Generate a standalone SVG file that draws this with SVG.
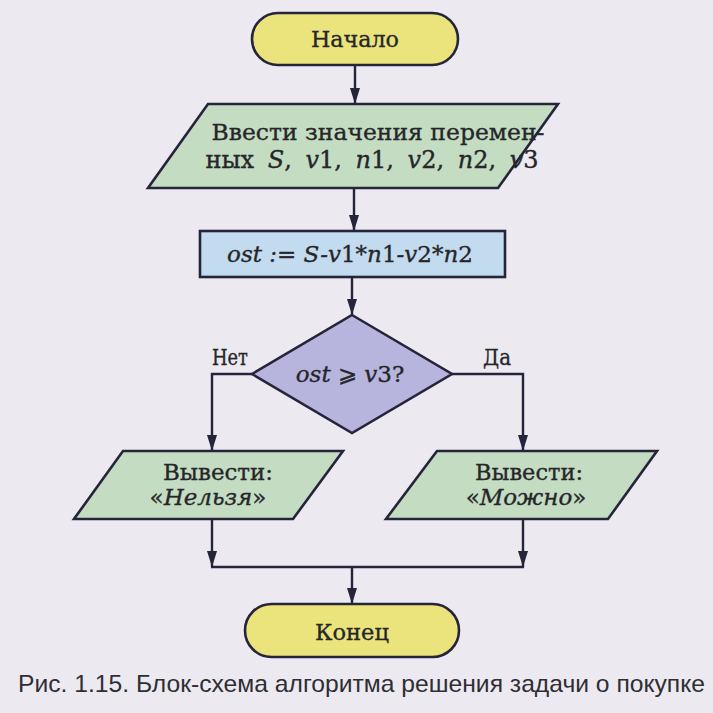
<svg xmlns="http://www.w3.org/2000/svg" width="713" height="713" viewBox="0 0 713 713">
<defs>
<marker id="arr" markerUnits="userSpaceOnUse" markerWidth="17" markerHeight="10" refX="16" refY="5" orient="auto">
<path d="M0,0 L16,5 L0,10 z" fill="#26243a"/>
</marker>
<style>
.shape{stroke:#26243a;stroke-width:2.6;stroke-linejoin:miter}
.term{fill:#ebe47c}
.io{fill:#c3dcc2}
.proc{fill:#c3dbef}
.dec{fill:#b7b5de}
.t{font-family:"DejaVu Serif","Liberation Serif",serif;font-size:23px;fill:#26262a;stroke:#26262a;stroke-width:0.35;text-anchor:middle}
.i{font-style:italic}
.u{font-style:normal}
.conn{fill:none;stroke:#26243a;stroke-width:2.4}
.cap{font-family:"Liberation Sans",Arial,sans-serif;font-size:24px;fill:#2e2e33}
</style>
</defs>
<rect x="0" y="0" width="713" height="713" fill="#eceaf0"/>

<g id="connectors">
<line class="conn" x1="355" y1="65" x2="355" y2="104" marker-end="url(#arr)"/>
<line class="conn" x1="354" y1="188" x2="354" y2="231" marker-end="url(#arr)"/>
<line class="conn" x1="352" y1="277" x2="352" y2="315" marker-end="url(#arr)"/>
<polyline class="conn" points="252,374 212,374 212,451" marker-end="url(#arr)"/>
<polyline class="conn" points="452,374 523,374 523,451" marker-end="url(#arr)"/>
<line class="conn" x1="212" y1="519" x2="212" y2="567" marker-end="url(#arr)"/>
<line class="conn" x1="523" y1="519" x2="523" y2="567" marker-end="url(#arr)"/>
<line class="conn" x1="211" y1="567" x2="524" y2="567"/>
<line class="conn" x1="352" y1="567" x2="352" y2="604" marker-end="url(#arr)"/>
</g>

<g id="start">
<rect class="shape term" x="252" y="13" width="206" height="52" rx="26" ry="26"/>
<text class="t" x="355" y="47" textLength="88" lengthAdjust="spacingAndGlyphs">Начало</text>
</g>

<g id="input">
<polygon class="shape io" points="208,104 558,104 498,188 148,188"/>
<text class="t" x="378" y="140" textLength="333" lengthAdjust="spacingAndGlyphs">Ввести значения перемен-</text>
<text class="t" x="372" y="168" style="font-size:24px;word-spacing:6px">ных <tspan class="i">S</tspan>, <tspan class="i">v</tspan>1, <tspan class="i">n</tspan>1, <tspan class="i">v</tspan>2, <tspan class="i">n</tspan>2, <tspan class="i">v</tspan>3</text>
</g>

<g id="calc">
<rect class="shape proc" x="200" y="231" width="305" height="46"/>
<text class="t i" x="350" y="262">ost := S-v<tspan class="u">1</tspan>*n<tspan class="u">1</tspan>-v<tspan class="u">2</tspan>*n<tspan class="u">2</tspan></text>
</g>

<g id="decision">
<polygon class="shape dec" points="352,315 452,374 352,433 252,374"/>
<text class="t" x="350" y="382"><tspan class="i">ost</tspan> ⩾ <tspan class="i">v</tspan>3?</text>
<text class="t" x="230" y="365" textLength="36" lengthAdjust="spacingAndGlyphs">Нет</text>
<text class="t" x="497" y="365" textLength="28" lengthAdjust="spacingAndGlyphs">Да</text>
</g>

<g id="out-no">
<polygon class="shape io" points="123,451 343,451 293,519 74,519"/>
<text class="t" x="218" y="480" textLength="110" lengthAdjust="spacingAndGlyphs">Вывести:</text>
<text class="t" x="208" y="505">«<tspan class="i">Нельзя</tspan>»</text>
</g>

<g id="out-yes">
<polygon class="shape io" points="437,451 657,451 608,519 386,519"/>
<text class="t" x="529" y="480" textLength="108" lengthAdjust="spacingAndGlyphs">Вывести:</text>
<text class="t" x="526" y="505">«<tspan class="i">Можно</tspan>»</text>
</g>

<g id="end">
<rect class="shape term" x="245" y="604" width="214" height="53" rx="26.5" ry="26.5"/>
<text class="t" x="352" y="640" textLength="74" lengthAdjust="spacingAndGlyphs">Конец</text>
</g>

<text class="cap" x="18" y="692" textLength="687" lengthAdjust="spacingAndGlyphs">Рис. 1.15. Блок-схема алгоритма решения задачи о покупке</text>
</svg>
